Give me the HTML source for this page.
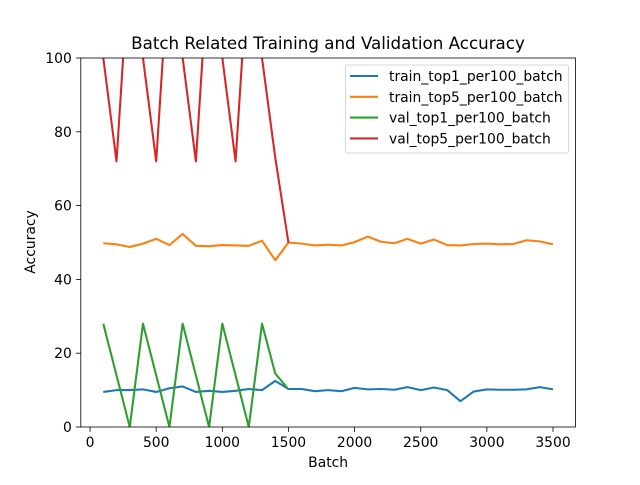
<!DOCTYPE html>
<html><head><meta charset="utf-8"><style>
body{margin:0;background:#fff;}
svg text{font-family:"DejaVu Sans","Liberation Sans",sans-serif;fill:#000;}
</style></head><body>
<svg id="chart" width="640" height="480" xmlns="http://www.w3.org/2000/svg">
<text x="328" y="49" font-size="16.7" text-anchor="middle">Batch Related Training and Validation Accuracy</text>
<g id="plot"></g>
</svg>
<script>
const batchesTrain = [100,200,300,400,500,600,700,800,900,1000,1100,1200,1300,1400,1500,1600,1700,1800,1900,2000,2100,2200,2300,2400,2500,2600,2700,2800,2900,3000,3100,3200,3300,3400,3500];
const trainTop1 = [9.5,10,10,10.2,9.5,10.5,11,9.5,9.8,9.5,9.8,10.3,10,12.5,10.3,10.3,9.7,10,9.7,10.6,10.2,10.3,10.1,10.8,10,10.7,10,7,9.6,10.2,10.1,10.1,10.2,10.8,10.2];
const trainTop5 = [49.8,49.5,48.8,49.7,51,49.3,52.3,49.1,49,49.3,49.2,49.1,50.5,45.2,50,49.7,49.2,49.4,49.2,50.1,51.6,50.2,49.8,51,49.7,50.8,49.3,49.2,49.6,49.7,49.5,49.6,50.6,50.3,49.5];
const batchesVal = [100,200,300,400,500,600,700,800,900,1000,1100,1200,1300,1400,1500];
const valTop1 = [28,14,0,28,14,0,28,14,0,28,14,0,28,14.5,10.2];
const valTop5 = [100,72,128,100,72,128,100,72,128,100,72,128,100,73,49.9];
const xTicks = [0,500,1000,1500,2000,2500,3000,3500];
const yTicks = [0,20,40,60,80,100];
const seriesNames = ["train_top1_per100_batch","train_top5_per100_batch","val_top1_per100_batch","val_top5_per100_batch"];

const L=80.8,R=575.5,T=58,B=427;
const xmin=-70,xmax=3670,ymin=0,ymax=100;
const sx=v=>L+(v-xmin)/(xmax-xmin)*(R-L);
const sy=v=>B-(v-ymin)/(ymax-ymin)*(B-T);
const NS="http://www.w3.org/2000/svg";
const g=document.getElementById('plot');
function mk(tag,attrs,parent){const e=document.createElementNS(NS,tag);for(const k in attrs)e.setAttribute(k,attrs[k]);(parent||g).appendChild(e);return e;}

const defs=mk('defs',{});
const cp=mk('clipPath',{id:'clip'},defs);
mk('rect',{x:L,y:T,width:R-L,height:B-T},cp);

const colors=['#1f77b4','#ff7f0e','#2ca02c','#d62728'];
const sets=[[batchesTrain,trainTop1],[batchesTrain,trainTop5],[batchesVal,valTop1],[batchesVal,valTop5]];
const lineNames=['train-top1-line','train-top5-line','val-top1-line','val-top5-line'];
sets.forEach((s,i)=>{
  const pts=s[0].map((x,j)=>sx(x).toFixed(2)+','+sy(s[1][j]).toFixed(2)).join(' ');
  const p=mk('polyline',{points:pts,fill:'none',stroke:colors[i],'stroke-width':2.08,'clip-path':'url(#clip)','stroke-linejoin':'round'});
  
  
});

const frame=mk('rect',{x:L,y:T,width:R-L,height:B-T,fill:'none',stroke:'#000','stroke-width':0.8});



xTicks.forEach(v=>{
  const x=sx(v);
  const t=mk('line',{x1:x,x2:x,y1:B,y2:B+4.9,stroke:'#000','stroke-width':0.8});
  
  
  const l=mk('text',{x:x,y:B+20,'font-size':13.9,'text-anchor':'middle'});
  l.textContent=v;
  
  
});
yTicks.forEach(v=>{
  const y=sy(v);
  const t=mk('line',{x1:L-4.9,x2:L,y1:y,y2:y,stroke:'#000','stroke-width':0.8});
  
  
  const l=mk('text',{x:L-9,y:y+5,'font-size':13.9,'text-anchor':'end'});
  l.textContent=v;
  
  
});
const xt=mk('text',{x:(L+R)/2,y:467,'font-size':13.9,'text-anchor':'middle'});
xt.textContent='Batch';


const yt=mk('text',{x:0,y:0,'font-size':13.9,'text-anchor':'middle',transform:'translate(35,242) rotate(-90)'});
yt.textContent='Accuracy';



const lg=mk('g',{});


mk('rect',{x:345.5,y:65,width:223,height:88,rx:2,fill:'#fff','fill-opacity':0.8,stroke:'#ccc','stroke-width':0.8},lg);
seriesNames.forEach((n,i)=>{
  const y=76+i*20.8;
  const ln=mk('line',{x1:350,x2:378,y1:y,y2:y,stroke:colors[i],'stroke-width':2.08},lg);
  
  
  const tx=mk('text',{x:389,y:y+5,'font-size':13.9},lg);
  tx.textContent=n;
  
  
});
</script>
</body></html>
